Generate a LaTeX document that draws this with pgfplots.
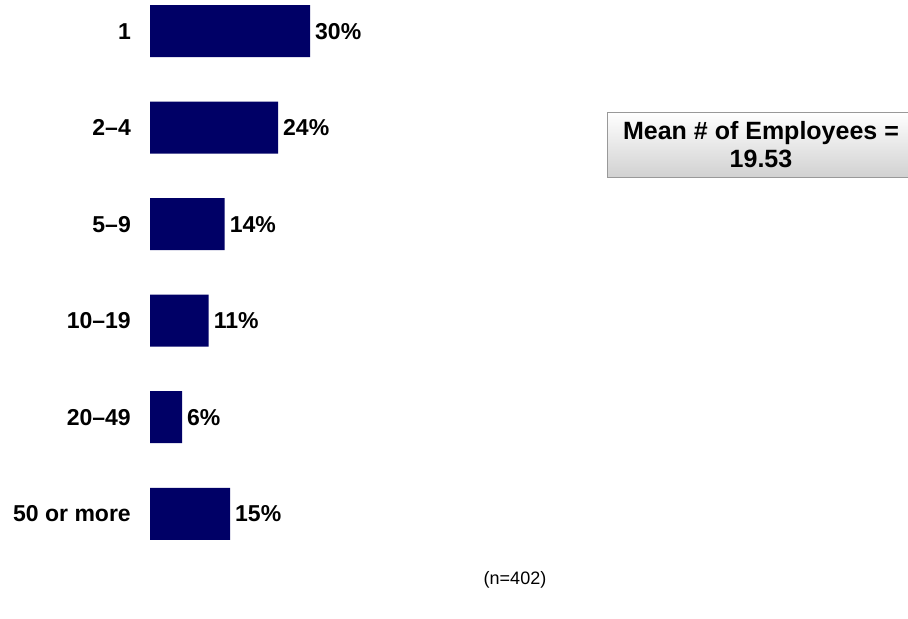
\documentclass[border=0pt]{standalone}
\usepackage{fontspec}
\setmainfont{Liberation Sans}
\usepackage{pgfplots}
\pgfplotsset{compat=1.18}
\definecolor{barnavy}{HTML}{000066}
\begin{document}
\begin{tikzpicture}[x=1bp,y=1bp]
\useasboundingbox (0,0) rectangle (908,619);
\begin{axis}[
  at={(150bp,57bp)}, anchor=south west,
  scale only axis, width=160bp, height=559.7bp,
  xbar, bar width=52bp, bar shift=0pt,
  xmin=0, xmax=30, ymin=-0.3, ymax=5.5,
  y dir=reverse,
  axis line style={draw=none},
  tick style={draw=none},
  xtick=\empty,
  ytick={0,1,2,3,4,5},
  yticklabels={1,2--4,5--9,10--19,20--49,50 or more},
  yticklabel style={font=\fontsize{23bp}{26bp}\selectfont\bfseries, anchor=east, inner sep=0pt, xshift=-19bp},
  major tick length=0pt,
  /pgf/number format/assume math mode=true,
  nodes near coords={\pgfmathprintnumber{\pgfplotspointmeta}\%},
  every node near coord/.append style={font=\fontsize{23bp}{26bp}\selectfont\bfseries, anchor=west, inner sep=0pt, xshift=5bp},
  clip=false,
]
\addplot[fill=barnavy, draw=none] coordinates {(30,0) (24,1) (14,2) (11,3) (6,4) (15,5)};
\end{axis}
\shade[top color=white, bottom color=black!18, draw=black!40, line width=0.8bp] (607,442) rectangle (915,507);
\node[align=center, font=\fontsize{25bp}{28bp}\selectfont\bfseries] at (761,474.5) {Mean \# of Employees =\\19.53};
\node[font=\fontsize{18bp}{20bp}\selectfont] at (515,39) {(n=402)};
\end{tikzpicture}
\end{document}
